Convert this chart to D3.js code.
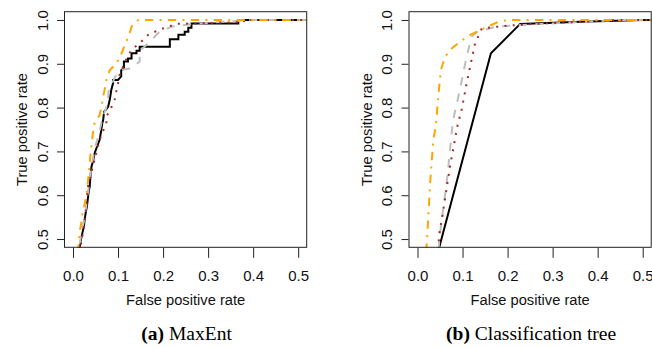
<!doctype html>
<html lang="en">
<head>
<meta charset="utf-8">
<title>ROC curves</title>
<script src="https://cdn.jsdelivr.net/npm/d3@7/dist/d3.min.js"></script>
<style>
  html, body { margin: 0; padding: 0; background: #fff; }
  svg { display: block; }
  .axis text { font-family: "Liberation Sans", Arial, sans-serif; font-size: 15px; fill: #111; }
  .axis path { display: none; }
  .axis line { stroke: #222; }
  .lab { font-family: "Liberation Sans", Arial, sans-serif; font-size: 14.7px; fill: #111; }
  .cap { font-family: "Liberation Serif", "Times New Roman", serif; font-size: 19.5px; fill: #000; }
</style>
</head>
<body>
<svg id="chart" width="652" height="347"></svg>
<script>
// tick labels
var xTicks = [0, 0.1, 0.2, 0.3, 0.4, 0.5];
var yTicks = [0.5, 0.6, 0.7, 0.8, 0.9, 1.0];

// (a) MaxEnt as [fpr, tpr]
var maxentBlack = [[0.010,0.45],[0.016,0.49],[0.020,0.51],[0.024,0.528],[0.026,0.545],[0.028,0.559],[0.031,0.575],[0.033,0.593],[0.035,0.61],[0.037,0.619],[0.039,0.645],[0.041,0.665],[0.045,0.68],[0.048,0.696],[0.053,0.71],[0.059,0.726],[0.063,0.75],[0.065,0.764],[0.067,0.772],[0.069,0.79],[0.078,0.802],[0.082,0.82],[0.085,0.840],[0.089,0.856],[0.089,0.863],[0.100,0.863],[0.107,0.871],[0.107,0.885],[0.113,0.890],[0.113,0.905],[0.122,0.905],[0.122,0.912],[0.130,0.912],[0.130,0.924],[0.141,0.924],[0.141,0.93],[0.148,0.93],[0.148,0.939],[0.215,0.939],[0.215,0.956],[0.234,0.956],[0.234,0.966],[0.248,0.966],[0.248,0.973],[0.256,0.973],[0.256,0.982],[0.263,0.982],[0.263,0.992],[0.367,0.992],[0.367,1.0],[0.52,1.0]];
var maxentGray = [[0.010,0.45],[0.015,0.49],[0.020,0.52],[0.024,0.54],[0.028,0.565],[0.031,0.59],[0.035,0.62],[0.039,0.65],[0.043,0.675],[0.047,0.70],[0.052,0.72],[0.058,0.74],[0.063,0.765],[0.067,0.78],[0.074,0.80],[0.078,0.825],[0.080,0.848],[0.089,0.86],[0.096,0.875],[0.107,0.886],[0.130,0.89],[0.148,0.905],[0.148,0.93],[0.160,0.94],[0.174,0.954],[0.189,0.97],[0.219,0.985],[0.26,0.99],[0.32,0.995],[0.40,1.0],[0.52,1.0]];
var maxentBrown = [[0.012,0.45],[0.018,0.49],[0.023,0.52],[0.028,0.559],[0.031,0.59],[0.033,0.619],[0.038,0.64],[0.044,0.665],[0.050,0.69],[0.059,0.726],[0.066,0.745],[0.074,0.764],[0.074,0.779],[0.085,0.80],[0.093,0.82],[0.096,0.836],[0.100,0.855],[0.104,0.878],[0.112,0.895],[0.119,0.912],[0.130,0.932],[0.148,0.947],[0.167,0.966],[0.190,0.977],[0.212,0.985],[0.230,0.991],[0.38,0.995],[0.38,1.0],[0.52,1.0]];
var maxentOrange = [[0.010,0.45],[0.013,0.494],[0.015,0.517],[0.018,0.535],[0.021,0.559],[0.026,0.58],[0.030,0.604],[0.033,0.63],[0.035,0.65],[0.037,0.67],[0.039,0.696],[0.042,0.72],[0.044,0.741],[0.048,0.765],[0.059,0.783],[0.063,0.80],[0.067,0.825],[0.071,0.845],[0.074,0.863],[0.082,0.886],[0.096,0.90],[0.104,0.915],[0.111,0.932],[0.118,0.95],[0.126,0.97],[0.130,0.985],[0.145,1.0],[0.52,1.0]];

// (b) Classification tree
var treeBlack = [[0.027,0.40],[0.048,0.48],[0.163,0.924],[0.228,0.991],[0.361,0.996],[0.50,1.0],[0.52,1.0]];
var treeGray = [[0.040,0.40],[0.050,0.513],[0.066,0.64],[0.078,0.764],[0.083,0.79],[0.094,0.84],[0.109,0.916],[0.120,0.962],[0.133,0.973],[0.176,0.985],[0.221,0.988],[0.45,1.0],[0.52,1.0]];
var treeBrown = [[0.042,0.40],[0.048,0.51],[0.055,0.551],[0.072,0.665],[0.089,0.76],[0.098,0.795],[0.109,0.855],[0.120,0.909],[0.128,0.947],[0.143,0.981],[0.191,0.986],[0.24,0.99],[0.45,1.0],[0.52,1.0]];
var treeOrange = [[0.018,0.40],[0.020,0.48],[0.024,0.551],[0.028,0.627],[0.035,0.726],[0.041,0.76],[0.046,0.825],[0.052,0.886],[0.061,0.916],[0.076,0.935],[0.094,0.95],[0.117,0.966],[0.139,0.977],[0.180,0.996],[0.20,1.0],[0.52,1.0]];

var styles = [
  { color: "#000000", dash: null },
  { color: "#bebebe", dash: "8.3,8.3" },
  { color: "#a52a2a", dash: "2,6.3" },
  { color: "#ffa500", dash: "2,6.3,8.3,6.3" }
];

var svg = d3.select("#chart");
svg.append("rect").attr("width", 652).attr("height", 347).attr("fill", "#fff");

function panel(id, left, series, bold, rest) {
  var top = 11.2, bottom = 247.8, w = 243.2;
  var x = d3.scaleLinear().domain([-0.02, 0.52]).range([left, left + w]);
  var y = d3.scaleLinear().domain([0.48, 1.02]).range([bottom, top]);

  svg.append("clipPath").attr("id", "clip" + id)
    .append("rect").attr("x", left).attr("y", top).attr("width", w).attr("height", bottom - top);

  var line = d3.line().x(function(d) { return x(d[0]); }).y(function(d) { return y(d[1]); });
  var g = svg.append("g").attr("clip-path", "url(#clip" + id + ")");
  series.forEach(function(s, i) {
    g.append("path").datum(s)
      .attr("d", line)
      .attr("fill", "none")
      .attr("stroke", styles[i].color)
      .attr("stroke-width", 2)
      .attr("stroke-dasharray", styles[i].dash);
  });

  var xa = svg.append("g").attr("class", "axis")
    .attr("transform", "translate(0," + bottom + ")")
    .call(d3.axisBottom(x).tickValues(xTicks).tickFormat(d3.format(".1f")).tickSize(10));
  xa.selectAll("text").attr("y", 33).attr("dy", null);

  var ya = svg.append("g").attr("class", "axis")
    .attr("transform", "translate(" + left + ",0)")
    .call(d3.axisLeft(y).tickValues(yTicks).tickFormat(d3.format(".1f")).tickSize(7).tickPadding(0));
  ya.selectAll("text")
    .attr("x", null).attr("dy", null)
    .attr("text-anchor", "middle")
    .attr("transform", "translate(-16.5,0) rotate(-90)");

  svg.append("rect")
    .attr("x", left + 0.5).attr("y", top + 0.5)
    .attr("width", w - 1).attr("height", bottom - top - 1)
    .attr("fill", "none").attr("stroke", "#222").attr("stroke-width", 1);

  svg.append("text").attr("class", "lab")
    .attr("x", (left + left + w) / 2).attr("y", 304.5)
    .attr("text-anchor", "middle").text("False positive rate");

  svg.append("text").attr("class", "lab")
    .attr("text-anchor", "middle")
    .attr("transform", "translate(" + (left - 37) + "," + ((top + bottom) / 2) + ") rotate(-90)")
    .text("True positive rate");

  var cap = svg.append("text").attr("class", "cap")
    .attr("x", (left + left + w) / 2 + 1).attr("y", 340).attr("text-anchor", "middle");
  cap.append("tspan").attr("font-weight", "bold").text(bold);
  cap.append("tspan").text(" " + rest);
}

panel("a", 64, [maxentBlack, maxentGray, maxentBrown, maxentOrange], "(a)", "MaxEnt");
panel("b", 408.5, [treeBlack, treeGray, treeBrown, treeOrange], "(b)", "Classification tree");
</script>
</body>
</html>
